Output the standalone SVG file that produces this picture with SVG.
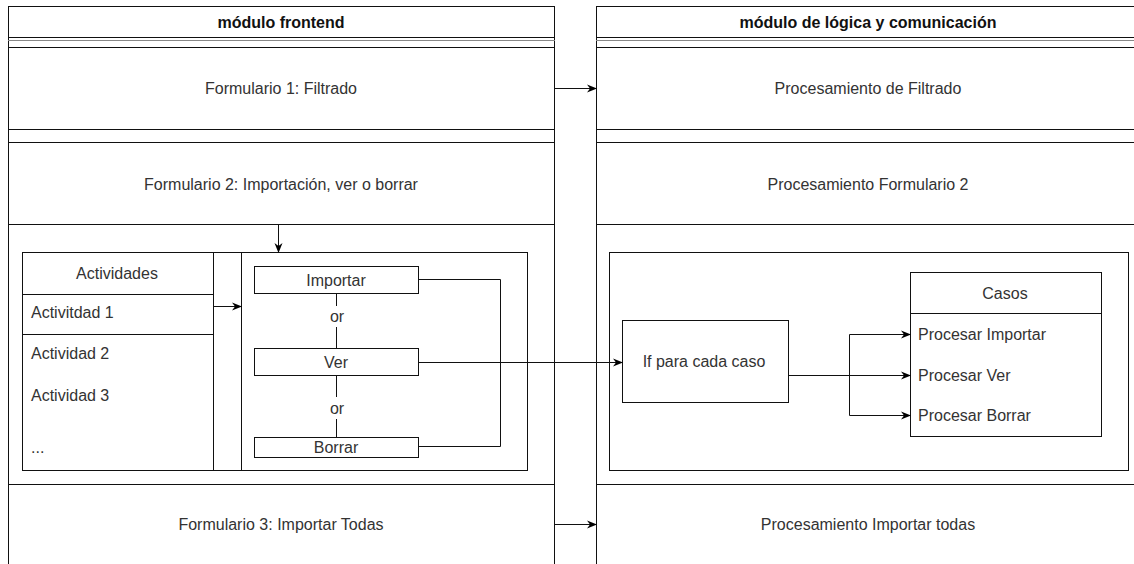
<svg xmlns="http://www.w3.org/2000/svg" width="1134" height="564" viewBox="0 0 1134 564">
<style>
.ln{stroke:#111;stroke-width:1;fill:none}
.bx{stroke:#111;stroke-width:1;fill:#fff}
.t{font-family:"Liberation Sans",Arial,sans-serif;font-size:16px;fill:#333;text-anchor:middle;dominant-baseline:central}
.tl{font-family:"Liberation Sans",Arial,sans-serif;font-size:16px;fill:#333;text-anchor:start;dominant-baseline:central}
.h{font-weight:bold;fill:#111}
.e{stroke:#111;stroke-width:1;fill:none;marker-end:url(#arr)}
</style>
<defs>
<marker id="arr" viewBox="0 0 10 10" refX="9" refY="5" markerWidth="10" markerHeight="10" markerUnits="userSpaceOnUse" orient="auto">
<path d="M0,1 L10,5 L0,9 L3,5 Z" fill="#000"/>
</marker>
</defs>
<rect width="1134" height="564" fill="#fff"/>

<g id="pool-frontend">
<rect class="bx" x="8.5" y="6.5" width="546" height="570"/>
<line class="ln" x1="8" y1="37.5" x2="555" y2="37.5"/>
<line class="ln" x1="8" y1="40.5" x2="555" y2="40.5" style="stroke:#888"/>
<line class="ln" x1="8" y1="47.5" x2="555" y2="47.5"/>
<line class="ln" x1="8" y1="129.5" x2="555" y2="129.5"/>
<line class="ln" x1="8" y1="142.5" x2="555" y2="142.5"/>
<line class="ln" x1="8" y1="224.5" x2="555" y2="224.5"/>
<line class="ln" x1="8" y1="484.5" x2="555" y2="484.5"/>
<text class="t h" x="281" y="22">módulo frontend</text>
</g>
<g id="lane-form1"><text class="t" x="281" y="88">Formulario 1: Filtrado</text></g>
<g id="lane-form2"><text class="t" x="281" y="184">Formulario 2: Importación, ver o borrar</text></g>
<g id="lane-form3"><text class="t" x="281" y="524">Formulario 3: Importar Todas</text></g>

<g id="pool-logica">
<rect class="bx" x="596.5" y="6.5" width="546" height="570"/>
<line class="ln" x1="596" y1="37.5" x2="1134" y2="37.5"/>
<line class="ln" x1="596" y1="40.5" x2="1134" y2="40.5" style="stroke:#888"/>
<line class="ln" x1="596" y1="47.5" x2="1134" y2="47.5"/>
<line class="ln" x1="596" y1="129.5" x2="1134" y2="129.5"/>
<line class="ln" x1="596" y1="142.5" x2="1134" y2="142.5"/>
<line class="ln" x1="596" y1="224.5" x2="1134" y2="224.5"/>
<line class="ln" x1="596" y1="484.5" x2="1134" y2="484.5"/>
<text class="t h" x="868" y="22">módulo de lógica y comunicación</text>
</g>
<g id="lane-proc1"><text class="t" x="868" y="88">Procesamiento de Filtrado</text></g>
<g id="lane-proc2"><text class="t" x="868" y="184">Procesamiento Formulario 2</text></g>
<g id="lane-proc3"><text class="t" x="868" y="524">Procesamiento Importar todas</text></g>

<g id="container-left">
<rect class="bx" x="22.5" y="252.5" width="505" height="218"/>
</g>
<g id="actividades">
<rect class="bx" x="22.5" y="252.5" width="191" height="218"/>
<line class="ln" x1="22" y1="294.5" x2="213" y2="294.5"/>
<line class="ln" x1="22" y1="334.5" x2="213" y2="334.5"/>
<line class="ln" x1="241.5" y1="252" x2="241.5" y2="470"/>
<text class="t" x="117" y="273">Actividades</text>
<text class="tl" x="31" y="312">Activitdad 1</text>
<text class="tl" x="31" y="353">Actividad 2</text>
<text class="tl" x="31" y="395">Actividad 3</text>
<text class="tl" x="31" y="447">...</text>
</g>
<g id="importar"><rect class="bx" x="254.5" y="266.5" width="164" height="27"/><text class="t" x="336" y="280">Importar</text></g>
<g id="ver"><rect class="bx" x="254.5" y="348.5" width="164" height="27"/><text class="t" x="336" y="362">Ver</text></g>
<g id="borrar"><rect class="bx" x="254.5" y="437.5" width="164" height="20"/><text class="t" x="336" y="447">Borrar</text></g>

<g id="container-right">
<rect class="bx" x="609.5" y="252.5" width="519" height="218"/>
</g>
<g id="if-caso"><rect class="bx" x="622.5" y="320.5" width="166" height="82"/><text class="t" x="704" y="361">If para cada caso</text></g>
<g id="casos">
<rect class="bx" x="910.5" y="272.5" width="191" height="164"/>
<line class="ln" x1="910" y1="313.5" x2="1101" y2="313.5"/>
<text class="t" x="1005" y="293">Casos</text>
<text class="tl" x="918" y="334">Procesar Importar</text>
<text class="tl" x="918" y="375">Procesar Ver</text>
<text class="tl" x="918" y="415">Procesar Borrar</text>
</g>

<g id="connectors">
<path class="e" d="M555,88.5 H596"/>
<path class="e" d="M555,524.5 H596"/>
<path class="e" d="M278.5,225 V252"/>
<path class="e" d="M213,306.5 H241"/>
<path class="ln" d="M336.5,293 V306 M336.5,327 V348 M336.5,375 V397 M336.5,419 V437"/>
<text class="t" x="337" y="316">or</text>
<text class="t" x="337" y="408">or</text>
<path class="ln" d="M418,279.5 H500.5 V446.5 H418"/>
<path class="e" d="M418,362.5 H622"/>
<path class="e" d="M788,375.5 H910"/>
<path class="e" d="M849.5,375 V334.5 H910"/>
<path class="e" d="M849.5,375 V415.5 H910"/>
</g>
</svg>
